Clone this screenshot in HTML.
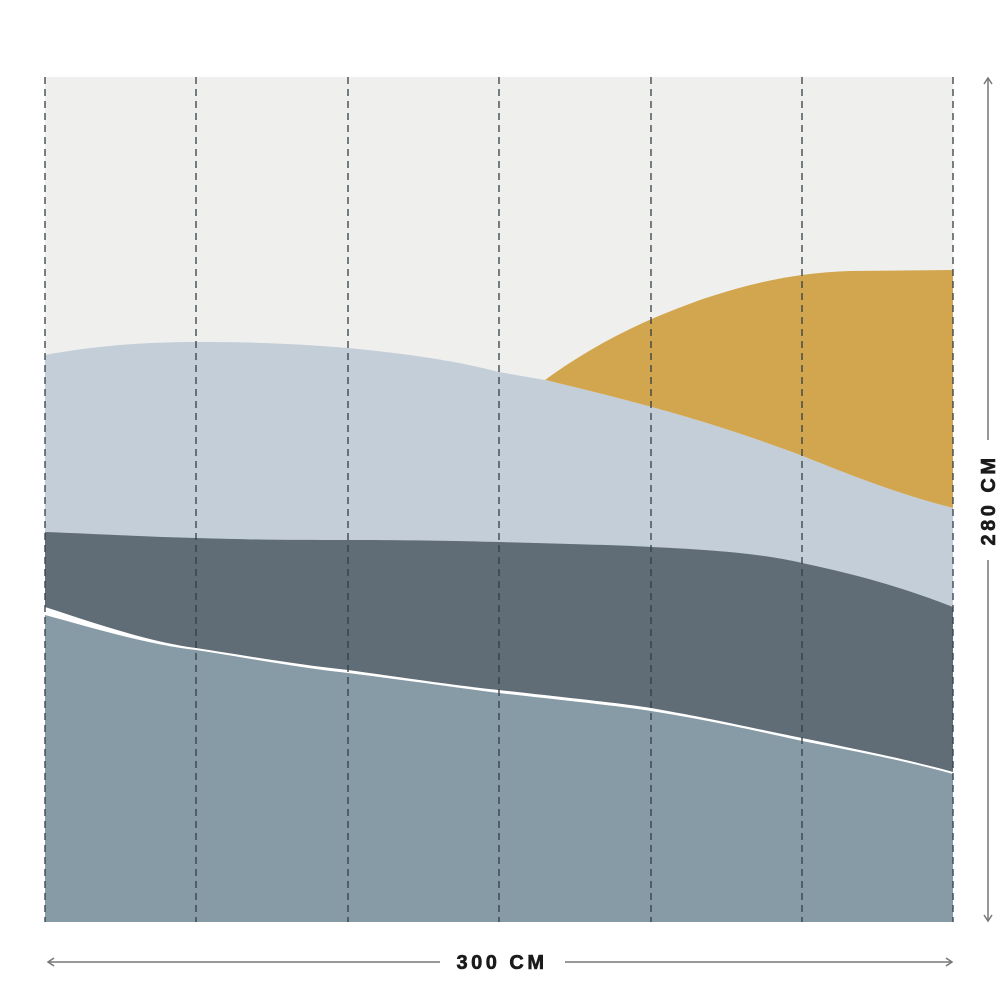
<!DOCTYPE html>
<html><head><style>body{margin:0;background:#fff}svg{display:block}</style></head><body>
<svg width="1000" height="1001" viewBox="0 0 1000 1001" xmlns="http://www.w3.org/2000/svg">
<rect x="45" y="77" width="908" height="845" fill="#efefed"/>
<path d="M545,380 C600,340 650,318 700,300 C760,280 800,273 850,271 L953,270 L953,508 C900,495 850,475 800,455 C720,425 650,405 545,380 Z" fill="#d2a64f"/>
<path d="M45,355 C100,345 150,342 196,342 C260,342 300,344 348,348 C420,355 460,362 499,372 L545,380 C650,405 720,425 800,455 C850,475 900,495 953,508 L953,607 L45,607 Z" fill="#c4ced8"/>
<path d="M45,532 C100,534 150,537 196,538 C260,540 300,540 348,540 C420,540 460,541 499,542 C560,544 620,545 651,547 C720,550 770,555 802,563 C860,575 910,590 953,607 L953,922 L45,922 Z" fill="#606d77"/>
<path d="M45,607 C100,625 150,642 196,648 C260,658 300,665 348,670 C420,680 460,686 499,690 C560,697 620,703 651,708 C720,720 770,732 802,738 C860,750 910,760 953,772 L953,922 L45,922 Z" fill="#ffffff"/>
<path d="M45,615 C100,630 150,645 196,650 C260,660 300,668 348,673 C420,682 460,688 499,693 C560,700 620,706 651,711 C720,722 770,734 802,741 C860,752 910,762 953,774 L953,922 L45,922 Z" fill="#879ba6"/>
<g stroke="#333d45" stroke-width="1.3" stroke-dasharray="7,5">
<line x1="45" y1="77" x2="45" y2="922"/><line x1="196" y1="77" x2="196" y2="922"/><line x1="348" y1="77" x2="348" y2="922"/><line x1="499" y1="77" x2="499" y2="922"/><line x1="651" y1="77" x2="651" y2="922"/><line x1="802" y1="77" x2="802" y2="922"/><line x1="953" y1="77" x2="953" y2="922"/>
</g>
<g stroke="#777" stroke-width="1.5" fill="none">
<line x1="48" y1="962" x2="440" y2="962"/><line x1="565" y1="962" x2="952" y2="962"/>
<path d="M54,958 L48,962 L54,966"/><path d="M946,958 L952,962 L946,966"/>
<line x1="988" y1="78" x2="988" y2="440"/><line x1="988" y1="560" x2="988" y2="921"/>
<path d="M984,84 L988,78 L992,84"/><path d="M984,915 L988,921 L992,915"/>
</g>
<text x="502" y="969" text-anchor="middle" font-family="Liberation Sans, sans-serif" font-weight="bold" font-size="20" letter-spacing="3.5" fill="#1a1a1a" stroke="#1a1a1a" stroke-width="0.6">300 CM</text>
<text x="0" y="0" transform="translate(995,500) rotate(-90)" text-anchor="middle" font-family="Liberation Sans, sans-serif" font-weight="bold" font-size="20" letter-spacing="3.5" fill="#1a1a1a" stroke="#1a1a1a" stroke-width="0.6">280 CM</text>
</svg>
</body></html>
